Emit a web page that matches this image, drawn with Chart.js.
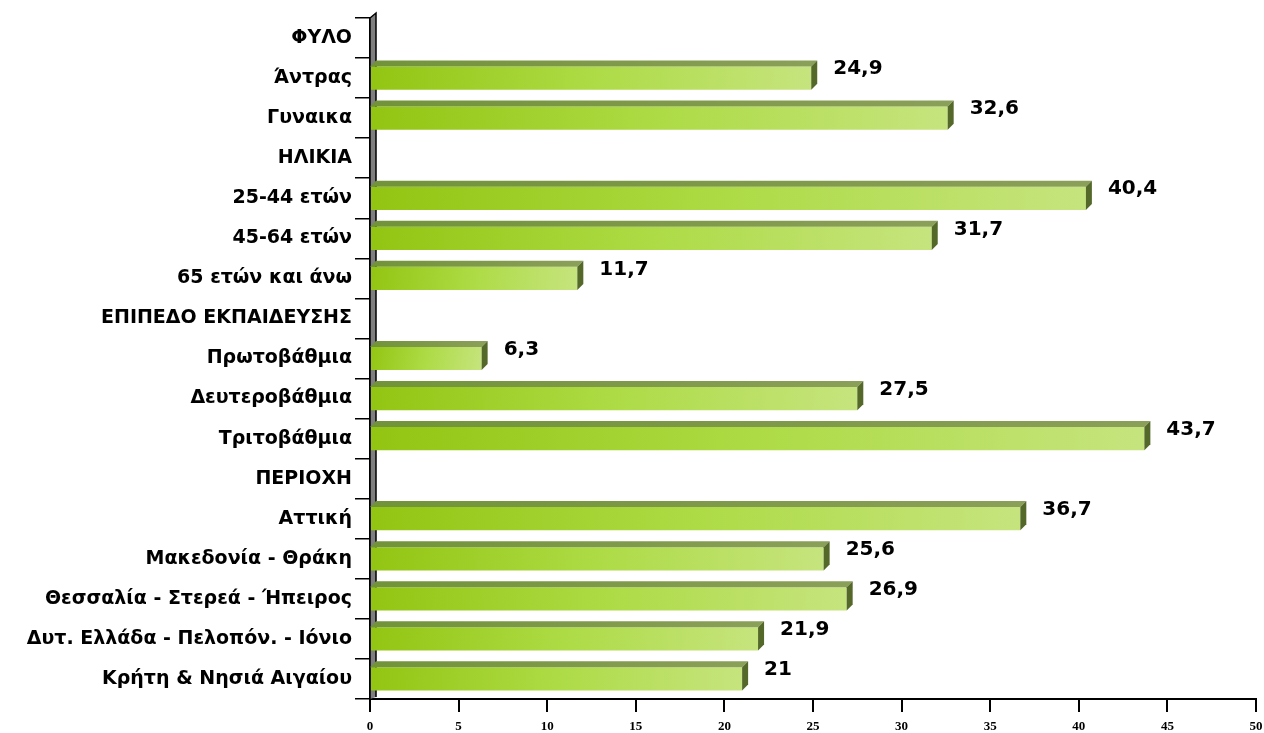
<!DOCTYPE html>
<html>
<head>
<meta charset="utf-8">
<script src="https://cdn.jsdelivr.net/npm/chart.js@4.4.1/dist/chart.umd.min.js"></script>
<style>
  html, body { margin: 0; padding: 0; background: #fff; }
  #wrap { width: 1264px; height: 733px; position: relative; }
</style>
</head>
<body>
<div id="wrap"><canvas id="chart"></canvas></div>
<script>
// rows: group headers carry no value
const categories = [
  'ΦΥΛΟ', 'Άντρας', 'Γυναικα',
  'ΗΛΙΚΙΑ', '25-44 ετών', '45-64 ετών', '65 ετών και άνω',
  'ΕΠΙΠΕΔΟ ΕΚΠΑΙΔΕΥΣΗΣ', 'Πρωτοβάθμια', 'Δευτεροβάθμια', 'Τριτοβάθμια',
  'ΠΕΡΙΟΧΗ', 'Αττική', 'Μακεδονία - Θράκη', 'Θεσσαλία - Στερεά - Ήπειρος',
  'Δυτ. Ελλάδα - Πελοπόν. - Ιόνιο', 'Κρήτη & Νησιά Αιγαίου'
];
const values = [
  null, 24.9, 32.6,
  null, 40.4, 31.7, 11.7,
  null, 6.3, 27.5, 43.7,
  null, 36.7, 25.6, 26.9, 21.9, 21
];
const xTicks = [0, 5, 10, 15, 20, 25, 30, 35, 40, 45, 50];

const DEPTH = 6;
const BAR_PCT = 0.58;

// bar rectangle from the scales (works before elements are laid out)
function barGeom(chart, i) {
  const v = values[i];
  const xs = chart.scales.x, ys = chart.scales.y;
  if (v == null || !xs || !ys) return null;
  const x0 = xs.getPixelForValue(0);
  const x1 = xs.getPixelForValue(v);
  const yc = ys.getPixelForValue(i);
  const h = (ys.height / categories.length) * BAR_PCT;
  if (![x0, x1, yc, h].every(Number.isFinite)) return null;
  return { x0, x1, yc, top: yc - h / 2, bot: yc + h / 2 };
}

// left wall, top/side faces of each bar and the value labels
const bars3d = {
  id: 'bars3d',
  beforeDatasetsDraw(chart) {
    const { ctx, chartArea: a } = chart;
    ctx.save();
    ctx.beginPath();
    ctx.moveTo(a.left, a.bottom);
    ctx.lineTo(a.left, a.top);
    ctx.lineTo(a.left + DEPTH, a.top - DEPTH + 1);
    ctx.lineTo(a.left + DEPTH, a.bottom - 2);
    ctx.closePath();
    ctx.fillStyle = '#7f7f7f';
    ctx.fill();
    ctx.strokeStyle = '#000';
    ctx.lineWidth = 1.5;
    ctx.beginPath();
    ctx.moveTo(a.left, a.bottom);
    ctx.lineTo(a.left, a.top);
    ctx.lineTo(a.left + DEPTH, a.top - DEPTH + 1);
    ctx.lineTo(a.left + DEPTH, a.bottom - 2);
    ctx.stroke();
    ctx.restore();
  },
  afterDatasetsDraw(chart) {
    const { ctx } = chart;
    ctx.save();
    values.forEach((v, i) => {
      const g = barGeom(chart, i);
      if (!g) return;
      // top face
      const tg = ctx.createLinearGradient(g.x0, 0, g.x1, 0);
      tg.addColorStop(0, '#72933a');
      tg.addColorStop(1, '#8a9f58');
      ctx.beginPath();
      ctx.moveTo(g.x0, g.top);
      ctx.lineTo(g.x0 + DEPTH, g.top - DEPTH);
      ctx.lineTo(g.x1 + DEPTH, g.top - DEPTH);
      ctx.lineTo(g.x1, g.top);
      ctx.closePath();
      ctx.fillStyle = tg;
      ctx.fill();
      // side face
      ctx.beginPath();
      ctx.moveTo(g.x1, g.top);
      ctx.lineTo(g.x1 + DEPTH, g.top - DEPTH);
      ctx.lineTo(g.x1 + DEPTH, g.bot - DEPTH);
      ctx.lineTo(g.x1, g.bot);
      ctx.closePath();
      ctx.fillStyle = '#54682a';
      ctx.fill();
      // value label
      ctx.fillStyle = '#000';
      ctx.font = 'bold 20px "DejaVu Sans"';
      ctx.textAlign = 'left';
      ctx.textBaseline = 'middle';
      ctx.fillText(String(v).replace('.', ','), g.x1 + DEPTH + 16, g.yc - 9);
    });
    ctx.restore();
  }
};

function frontFill(c) {
  const chart = c.chart;
  const g = chart.chartArea ? barGeom(chart, c.dataIndex) : null;
  if (!g) return '#a6d23a';
  const grad = chart.ctx.createLinearGradient(g.x0, g.top, g.x1, g.bot);
  grad.addColorStop(0, '#92c512');
  grad.addColorStop(0.5, '#addb45');
  grad.addColorStop(1, '#c6e47e');
  return grad;
}

new Chart(document.getElementById('chart'), {
  type: 'bar',
  data: {
    labels: categories,
    datasets: [{
      data: values,
      backgroundColor: frontFill,
      borderWidth: 0,
      barPercentage: BAR_PCT,
      categoryPercentage: 1
    }]
  },
  plugins: [bars3d],
  options: {
    indexAxis: 'y',
    responsive: true,
    maintainAspectRatio: false,
    animation: false,
    layout: { padding: { top: 18, right: 0, bottom: 0, left: 0 } },
    plugins: { legend: { display: false }, tooltip: { enabled: false } },
    scales: {
      y: {
        afterFit(scale) { scale.width = 370; },
        grid: {
          offset: true,
          drawOnChartArea: false,
          drawTicks: true,
          tickLength: 15,
          color: '#000',
          lineWidth: 1.5
        },
        border: { display: true, color: '#000', width: 1.5 },
        ticks: {
          color: '#000',
          padding: 3,
          font: { family: 'DejaVu Sans', weight: 'bold', size: 19 }
        }
      },
      x: {
        min: 0,
        max: 50,
        afterFit(scale) {
          scale.height = 34;
          scale.paddingRight = 8;
        },
        afterBuildTicks(scale) { scale.ticks = xTicks.map(v => ({ value: v })); },
        grid: {
          drawOnChartArea: false,
          drawTicks: true,
          tickLength: 13,
          color: '#000',
          lineWidth: 2
        },
        border: { display: true, color: '#000', width: 2 },
        ticks: {
          color: '#000',
          padding: 7,
          maxRotation: 0,
          font: { family: 'Liberation Serif', weight: 'bold', size: 13 }
        }
      }
    }
  }
});
</script>
</body>
</html>
